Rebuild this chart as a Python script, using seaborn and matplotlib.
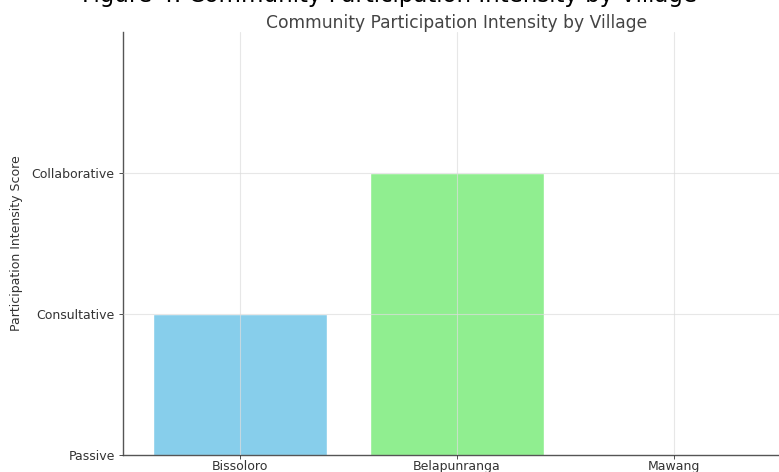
import matplotlib
matplotlib.use("Agg")
import matplotlib.pyplot as plt
import seaborn as sns
import pandas as pd

# data
villages = ["Bissoloro", "Belapunranga", "Mawang"]
scores = [2, 3, 1]
level_labels = ["Passive", "Consultative", "Collaborative"]
level_values = [1, 2, 3]
bar_colors = ["skyblue", "lightgreen", "salmon"]

sns.set_style("whitegrid")
plt.rcParams['font.family'] = ['DejaVu Sans']

df = pd.DataFrame({"Village": villages, "Score": scores})

fig = plt.figure(figsize=(7.79, 4.72), dpi=100)
ax = fig.add_axes([123 / 779, 17 / 472, 668 / 779, 423 / 472])

sns.barplot(data=df, x="Village", y="Score", hue="Village", palette=bar_colors,
            legend=False, width=0.8, saturation=1, ax=ax, zorder=1)

ax.set_ylim(1, 4)
ax.set_xlim(-0.54, 2.54)
ax.set_yticks(level_values)
ax.set_yticklabels(level_labels)
ax.set_xlabel("")
ax.set_ylabel("Participation Intensity Score", fontsize=9, color="#333333",
              labelpad=6)
ax.set_title("Community Participation Intensity by Village", fontsize=12.3,
             color="#444444", pad=3)

ax.tick_params(axis="both", labelsize=9, colors="#333333", length=3,
               width=0.6, bottom=True, left=True)
ax.tick_params(axis="x", pad=0.5)
ax.tick_params(axis="y", pad=3)
ax.grid(True, color="#dddddd", linewidth=0.8, alpha=0.7)
ax.set_axisbelow(False)
for s in ["top", "right"]:
    ax.spines[s].set_visible(False)
for s in ["left", "bottom"]:
    ax.spines[s].set_color("#555555")
    ax.spines[s].set_linewidth(1.0)

fig.suptitle("Figure 4: Community Participation Intensity by Village",
             fontsize=16.5, y=1.033, color="black")

fig.savefig("out.png", dpi=100)
